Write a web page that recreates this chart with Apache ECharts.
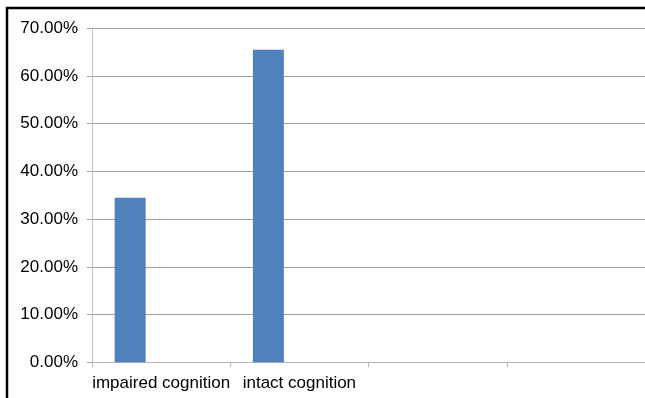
<!DOCTYPE html>
<html>
<head>
<meta charset="utf-8">
<script src="https://cdn.jsdelivr.net/npm/echarts@6/dist/echarts.min.js"></script>
<style>
html,body{margin:0;padding:0;background:#fff;}
#chart{width:645px;height:398px;}
</style>
</head>
<body>
<div id="chart"></div>
<script>
const categories = ['impaired cognition', 'intact cognition', '', ''];
const seriesValues = [34.5, 65.5, null, null];
const emptySeriesA = [null, null, null, null];
const emptySeriesB = [null, null, null, null];
const yTicks = { min: 0, max: 70, interval: 10 };

const chart = echarts.init(document.getElementById('chart'), null, { renderer: 'canvas' });
const font = { fontFamily: 'Liberation Sans, Arial, sans-serif', fontSize: 17, color: '#000' };
chart.setOption({
  animation: false,
  backgroundColor: '#fff',
  grid: { left: 92, right: -3, top: 28.3, bottom: 35.7, containLabel: false },
  graphic: [{
    type: 'rect',
    shape: { x: 7, y: 8, width: 800, height: 600 },
    style: { fill: 'none', stroke: '#000', lineWidth: 2.5 },
    silent: true, z: 100
  }],
  xAxis: {
    type: 'category',
    data: categories,
    boundaryGap: true,
    axisLine: { show: true, lineStyle: { color: '#b8b8b8', width: 1 } },
    axisTick: { show: true, interval: 0, length: 5, lineStyle: { color: '#b8b8b8' } },
    axisLabel: Object.assign({ interval: 0, margin: 13 }, font),
    splitLine: { show: false }
  },
  yAxis: {
    type: 'value',
    min: yTicks.min, max: yTicks.max, interval: yTicks.interval,
    axisLine: { show: true, lineStyle: { color: '#c4c4c4', width: 1 } },
    axisTick: { show: true, length: 5, lineStyle: { color: '#a0a0a0' } },
    axisLabel: Object.assign({ margin: 14, formatter: v => v.toFixed(2) + '%' }, font),
    splitLine: { show: true, lineStyle: { color: '#a0a0a0', width: 1 } }
  },
  series: [
    { type: 'bar', data: seriesValues, barWidth: 31, barGap: '0%', itemStyle: { color: '#4f81bd' } },
    { type: 'bar', data: emptySeriesA, barWidth: 31, barGap: '0%', itemStyle: { color: '#c0504d' } },
    { type: 'bar', data: emptySeriesB, barWidth: 31, barGap: '0%', itemStyle: { color: '#9bbb59' } }
  ]
});
</script>
</body>
</html>
